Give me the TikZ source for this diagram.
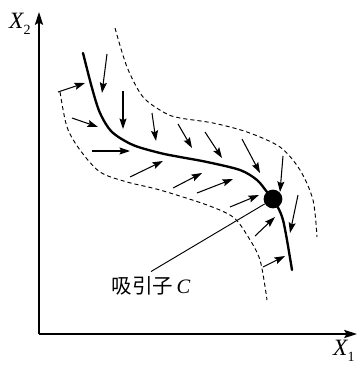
\documentclass[tikz,border=0pt]{standalone}
\usepackage{fontspec}
\setmainfont{Liberation Serif}
\newfontfamily\cjk{Noto Sans CJK SC}
\usetikzlibrary{arrows.meta}

\newcommand{\ejeX}[1]{\textit{X}\kern-0.5pt\raisebox{-0.55ex}{\fontsize{12}{12}\selectfont #1}}

\tikzset{
    flecha/.style={line width=0.9pt,-{Stealth[length=9pt,width=6pt,inset=1.5pt]}},
    borde/.style={line width=0.8pt,dash pattern=on 3.5pt off 2.6pt}
}

\begin{document}
\begin{tikzpicture}[x=0.03cm,y=-0.03cm,line join=round]
        \useasboundingbox (0,0) rectangle (358,365);

        % Ejes
        \draw[line width=1.1pt,-{Stealth[length=11pt,width=7pt,inset=2pt]}] (39,334) -- (39,12);
        \draw[line width=1.1pt,-{Stealth[length=11pt,width=7pt,inset=2pt]}] (39,334) -- (357,334);
        \node (ejey) at (20,24) {\fontsize{20}{20}\selectfont\ejeX{2}};
        \node (ejex) at (344,351) {\fontsize{20}{20}\selectfont\ejeX{1}};

        % Fronteras de la cuenca
        \draw[borde] plot[smooth] coordinates {
            (115,28) (127,67) (143,97) (165,113) (180,118) (213,123)
            (247,132) (280,147) (300,170) (313,200) (317,237)
        };
        \draw[borde] plot[smooth] coordinates {
            (60,92) (67,127) (80,150) (100,172) (127,182) (160,190)
            (207,205) (233,217) (247,235) (260,260) (267,300)
        };

        % Trayectoria y atractor
        \draw[line width=2pt,line cap=round] plot[smooth] coordinates {
            (83,53) (92,88) (100,113) (112,132) (133,145) (160,153)
            (180,157) (207,162) (240,170) (257,180) (267,192) (273,199)
            (283,220) (292,270)
        };
        \node[circle,fill,inner sep=0pt,minimum size=16pt] (C) at (273,199) {};

        % Campo de flechas
        \foreach \a/\b/\c/\d in {
            107/54/102/93, 123/91/123/129, 152/113/156/141, 178/124/192/148,
            205/132/222/158, 242/139/260/173, 283/156/280/192, 298/195/290/233,
            58/92/85/83, 72/118/98/127, 92/151/130/151, 130/177/163/161,
            173/188/202/173, 197/193/233/179, 230/207/259/195,
            255/236/275/217, 263/267/285/256} {
            \draw[flecha] (\a,\b) -- (\c,\d);
        }

        % Etiqueta del atractor
        \node (lbl) at (151,286) {\fontsize{17.5}{17.5}\selectfont{\cjk 吸引子}\,\textit{C}};
        \draw[line width=0.8pt] (lbl.north) ++(0,-1) coordinate (ini) (ini) -- (C);
    \end{tikzpicture}
\end{document}
